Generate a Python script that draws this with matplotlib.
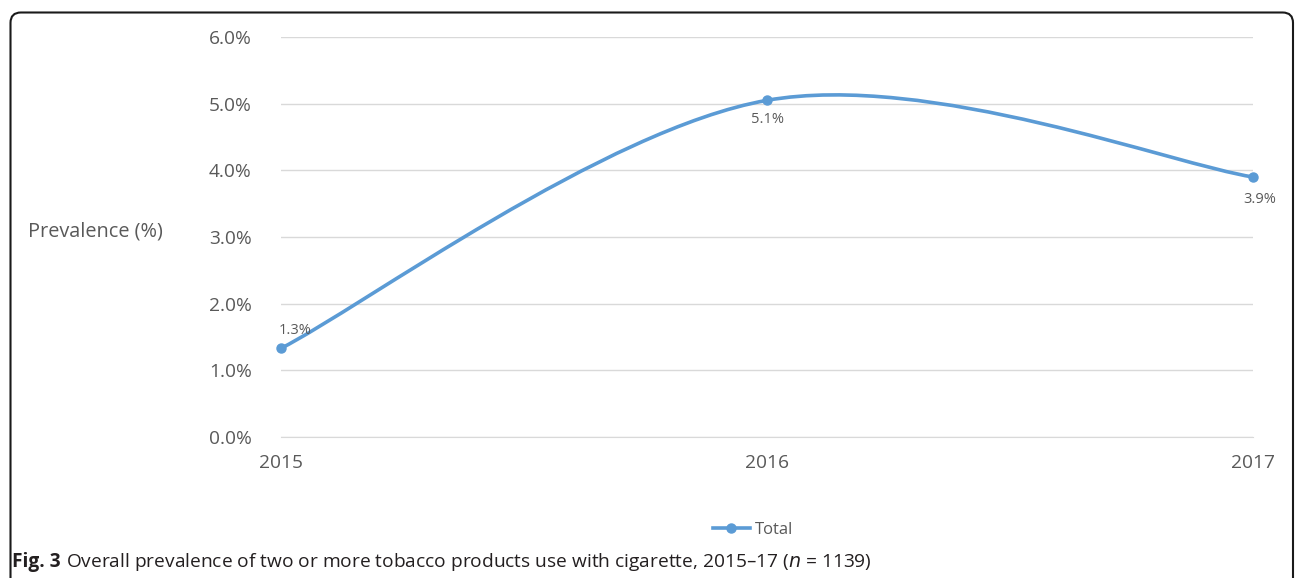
import matplotlib
matplotlib.use("Agg")
import matplotlib.pyplot as plt
from matplotlib.path import Path
from matplotlib.patches import PathPatch, FancyBboxPatch
from matplotlib.lines import Line2D
from matplotlib.font_manager import fontManager

years = ["2015", "2016", "2017"]
prevalence = [1.33, 5.05, 3.90]
point_labels = ["1.3%", "5.1%", "3.9%"]
yticks = [0.0, 1.0, 2.0, 3.0, 4.0, 5.0, 6.0]
ytick_labels = ["0.0%", "1.0%", "2.0%", "3.0%", "4.0%", "5.0%", "6.0%"]
series_name = "Total"

names = {f.name for f in fontManager.ttflist}
main_font = "Open Sans" if "Open Sans" in names else "DejaVu Sans"
cap_font = "Liberation Sans Narrow" if "Liberation Sans Narrow" in names else main_font

W, H = 1295, 578
fig = plt.figure(figsize=(W / 100, H / 100), dpi=100)
ax = fig.add_axes([281 / W, 1 - 437 / H, (1253 - 281) / W, (437 - 37) / H])

line_col = "#5B9BD5"
txt_col = "#595959"
grid_col = "#D9D9D9"

x = list(range(len(years)))
# Excel-style smoothed line: cubic Bezier through data points (Catmull-Rom tangents)
pts = list(zip(x, prevalence))
verts = [pts[0]]
codes = [Path.MOVETO]
n = len(pts)
for i in range(n - 1):
    p0 = pts[i - 1] if i > 0 else pts[i]
    p1 = pts[i]
    p2 = pts[i + 1]
    p3 = pts[i + 2] if i + 2 < n else pts[i + 1]
    c1 = (p1[0] + (p2[0] - p0[0]) / 6, p1[1] + (p2[1] - p0[1]) / 6)
    c2 = (p2[0] - (p3[0] - p1[0]) / 6, p2[1] - (p3[1] - p1[1]) / 6)
    verts += [c1, c2, p2]
    codes += [Path.CURVE4] * 3
ax.add_patch(PathPatch(Path(verts, codes), facecolor="none", edgecolor=line_col,
                       lw=2.6, capstyle="round", zorder=3, clip_on=False))
ax.plot(x, prevalence, "o", color=line_col, ms=6.5, zorder=4, clip_on=False)

ax.set_xlim(0, 2)
ax.set_ylim(0, 6)
ax.set_yticks(yticks)
ax.set_yticklabels(ytick_labels)
ax.set_xticks(x)
ax.set_xticklabels(years)
ax.grid(axis="y", color=grid_col, lw=1)
ax.set_axisbelow(True)
for s in ["top", "right", "left"]:
    ax.spines[s].set_visible(False)
ax.spines["bottom"].set_color(grid_col)
ax.tick_params(axis="both", length=0, colors=txt_col, labelsize=13.8)
ax.tick_params(axis="y", pad=21)
ax.tick_params(axis="x", pad=12)
for lab in ax.get_xticklabels() + ax.get_yticklabels():
    lab.set_fontfamily(main_font)

# data labels
offsets = [(10, 13), (0, -14), (5, -16)]
for xi, yi, lab, (dx, dy) in zip(x, prevalence, point_labels, offsets):
    ax.annotate(lab, (xi, yi), xytext=(dx, dy), textcoords="offset points",
                ha="center", va="center", fontsize=10.5, color=txt_col,
                family=main_font, zorder=5, annotation_clip=False)

fig.text(28 / W, 1 - 231 / H, "Prevalence (%)", ha="left", va="center",
         fontsize=14.3, color=txt_col, family=main_font)

# legend
handle = Line2D([0], [0], color=line_col, lw=2.6, marker="o", ms=6.5)
leg = fig.legend([handle], [series_name], loc="center", bbox_to_anchor=(753 / W, 1 - 530 / H),
                 frameon=False, handlelength=2.2, handletextpad=0.3,
                 prop={"family": main_font, "size": 12})
for t in leg.get_texts():
    t.set_color(txt_col)

# rounded border
box = FancyBboxPatch((10.5 / W, -0.1), (1293 - 10.5) / W, (1 - 12.5 / H) + 0.1,
                     boxstyle="round,pad=0,rounding_size=0.008",
                     transform=fig.transFigure, facecolor="none",
                     edgecolor="#1a1a1a", lw=1.5, mutation_aspect=W / H)
fig.patches.append(box)

# caption
cap_y = 1 - 562 / H
t1 = fig.text(12 / W, cap_y, "Fig. 3", ha="left", va="center", fontsize=13.8,
              fontweight="bold", color="#231f20", family=cap_font)
fig.canvas.draw()
bb = t1.get_window_extent()
fig.text((bb.x1 + 5) / W, cap_y,
         r"Overall prevalence of two or more tobacco products use with cigarette, 2015–17 ($\mathit{n}$ = 1139)",
         ha="left", va="center", fontsize=13.8, color="#231f20", family=cap_font)

fig.savefig("out.png", dpi=100)
